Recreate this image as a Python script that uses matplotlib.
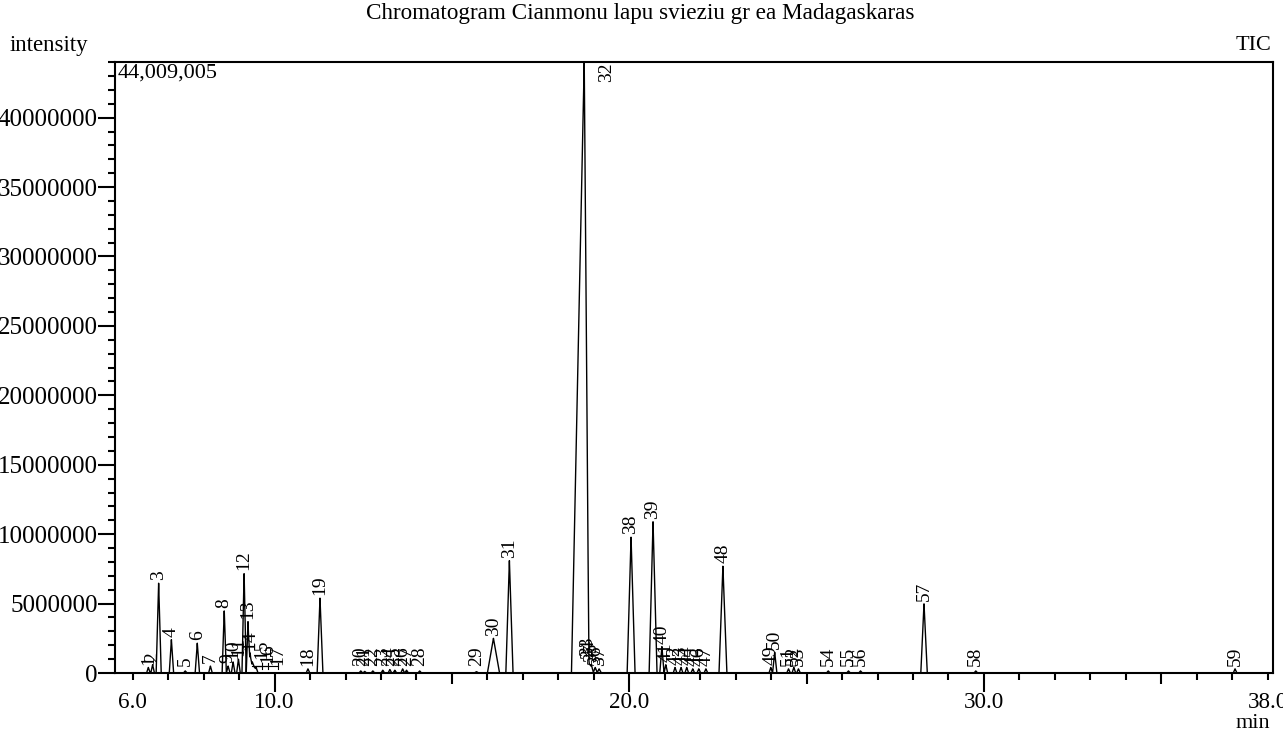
import numpy as np
import matplotlib
matplotlib.use("Agg")
import matplotlib.pyplot as plt
from matplotlib.ticker import MultipleLocator, FixedLocator

plt.rcParams['font.family'] = ['Liberation Serif', 'DejaVu Serif']

# --- peak table (min, intensity, base half-width in min)
peak_no = list(range(1, 60))
peak_rt = [6.44, 6.56, 6.73, 7.09, 7.48, 7.82, 8.19, 8.58, 8.69, 8.83,
           8.98, 9.14, 9.25, 9.31, 9.37, 9.42, 9.48, 10.94, 11.28, 12.43,
           12.54, 12.77, 13.05, 13.25, 13.39, 13.61, 13.72, 14.09, 15.69, 16.17,
           16.62, 18.73, 18.81, 18.86, 18.93, 19.04, 19.15, 20.05, 20.67, 20.92,
           21.03, 21.29, 21.46, 21.62, 21.79, 21.96, 22.16, 22.64, 23.99, 24.10,
           24.49, 24.64, 24.77, 25.61, 26.18, 26.52, 28.31, 29.77, 37.08]
peak_height = [0.4e6, 0.6e6, 6.5e6, 2.4e6, 0.15e6, 2.15e6, 0.5e6, 4.5e6, 0.5e6, 0.8e6,
               1.0e6, 7.2e6, 3.7e6, 1.45e6, 0.8e6, 0.5e6, 0.4e6, 0.3e6, 5.4e6, 0.15e6,
               0.12e6, 0.15e6, 0.2e6, 0.25e6, 0.2e6, 0.3e6, 0.2e6, 0.15e6, 0.1e6, 2.5e6,
               8.1e6, 44009005, 1.0e6, 0.8e6, 0.6e6, 0.4e6, 0.3e6, 9.8e6, 10.9e6, 1.9e6,
               0.6e6, 0.4e6, 0.4e6, 0.4e6, 0.3e6, 0.3e6, 0.3e6, 7.7e6, 0.4e6, 1.5e6,
               0.3e6, 0.4e6, 0.3e6, 0.15e6, 0.15e6, 0.15e6, 5.0e6, 0.15e6, 0.3e6]
peak_halfwidth = [0.05, 0.05, 0.07, 0.06, 0.05, 0.06, 0.05, 0.06, 0.05, 0.05,
                  0.05, 0.06, 0.05, 0.05, 0.05, 0.05, 0.05, 0.05, 0.08, 0.05,
                  0.05, 0.05, 0.05, 0.05, 0.05, 0.05, 0.05, 0.05, 0.06, 0.17,
                  0.10, 0.36, 0.06, 0.06, 0.06, 0.06, 0.06, 0.11, 0.11, 0.06,
                  0.05, 0.05, 0.05, 0.05, 0.05, 0.05, 0.05, 0.11, 0.05, 0.06,
                  0.05, 0.05, 0.05, 0.05, 0.05, 0.05, 0.09, 0.05, 0.05]
max_intensity = 44009005

# labels that the instrument software pushed aside, with a leader line
label_shift = {15: 9.65, 16: 9.82, 17: 10.10}

x_ticks = [6.0, 10.0, 20.0, 30.0, 38.0]
y_ticks = list(range(0, 45000000, 5000000))

fig = plt.figure(figsize=(12.83, 7.36), dpi=100)
ax = fig.add_axes([115 / 1283, 1 - 673 / 736, 1158 / 1283, 611 / 736])

# --- trace
t = np.linspace(5.5, 38.2, 40000)
signal = np.zeros_like(t)
for rt, h, w in zip(peak_rt, peak_height, peak_halfwidth):
    if rt == 18.73:
        # main peak is fronting: wide on the left, steep on the right
        left = np.clip(1 - (rt - t) / w, 0, None) * (t <= rt)
        right = np.clip(1 - (t - rt) / 0.13, 0, None) * (t > rt)
        signal += h * (left + right)
    else:
        signal += h * np.clip(1 - np.abs(t - rt) / w, 0, None)
ax.plot(t, signal, color='black', lw=1.0)

# --- peak numbers
for n, rt, h in zip(peak_no, peak_rt, peak_height):
    if h >= max_intensity * 0.99:
        ax.text(19.37, max_intensity, str(n), rotation=90, ha='center', va='top',
                fontsize=14)
        continue
    y = max(h, 0.3e6)
    xl = label_shift.get(n, rt)
    if n in label_shift:
        ax.plot([rt, xl], [0.5e6, 0.5e6], color='black', lw=0.8)
        ax.plot([xl, xl], [0.3e6, 0.7e6], color='black', lw=0.8)
    ax.annotate(str(n), (xl, y), xytext=(0, 2), textcoords='offset points',
                rotation=90, ha='center', va='bottom', fontsize=14)

ax.set_xlim(5.5, 38.15)
ax.set_ylim(0, max_intensity)

ax.set_xticks(x_ticks, labels=['%.1f' % v for v in x_ticks])
minor_locs = [m for m in range(7, 38) if m not in (10, 20, 30)]
ax.xaxis.set_minor_locator(FixedLocator(minor_locs))
ax.set_yticks(y_ticks, labels=[str(v) for v in y_ticks])
ax.yaxis.set_minor_locator(MultipleLocator(1000000))

ax.tick_params(axis='x', which='major', direction='out', length=5, width=1.5,
               labelsize=16.7, pad=9)
ax.tick_params(axis='x', which='minor', direction='out', length=5, width=1.5)
ax.tick_params(axis='y', which='major', direction='out', length=12, width=1.5,
               labelsize=18, pad=0.5)
ax.tick_params(axis='y', which='minor', direction='out', length=5, width=1.5)

for tk, loc in zip(ax.xaxis.get_major_ticks(), x_ticks):
    if loc in (10.0, 20.0, 30.0):
        tk.tick1line.set_markersize(14)
for tk, loc in zip(ax.xaxis.get_minor_ticks(len(minor_locs)), minor_locs):
    if loc in (15, 25, 35):
        tk.tick1line.set_markersize(8)

for sp in ax.spines.values():
    sp.set_linewidth(1.5)

ax.text(0.002, 0.998, '44,009,005', transform=ax.transAxes, ha='left', va='top',
        fontsize=16)
fig.text(640 / 1283, 1 - 13 / 736, 'Chromatogram Cianmonu lapu svieziu gr ea Madagaskaras',
         ha='center', va='center', fontsize=16.7)
fig.text(10 / 1283, 1 - 46 / 736, 'intensity', ha='left', va='center', fontsize=16.5)
fig.text(1271 / 1283, 1 - 46 / 736, 'TIC', ha='right', va='center', fontsize=16)
fig.text(1270 / 1283, 1 - 724 / 736, 'min', ha='right', va='center', fontsize=16)

fig.savefig('out.png', dpi=100)
